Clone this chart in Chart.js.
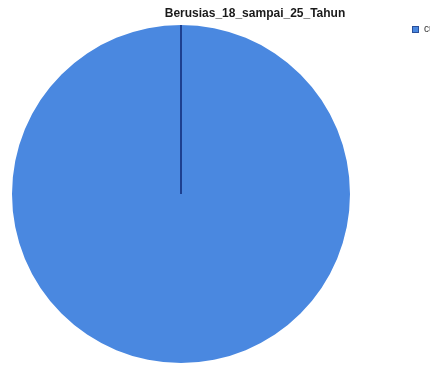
<!DOCTYPE html>
<html>
<head>
<meta charset="utf-8">
<script src="https://cdn.jsdelivr.net/npm/chart.js@4/dist/chart.umd.min.js"></script>
<style>
  html, body { margin: 0; padding: 0; background: #ffffff; }
  #wrap { width: 430px; height: 368px; position: relative; }
</style>
</head>
<body>
<div id="wrap"><canvas id="pie" width="430" height="368"></canvas></div>
<script>
// Frequency chart for the age-group variable
const chartTitle = 'Berusias_18_sampai_25_Tahun';
const categories = ['cukup'];
const counts = [100];
const sliceColors = ['#4a88e0'];

// Draws the title, the legend swatch and the slice edge line
const annotate = {
  id: 'annotate',
  afterDatasetsDraw(chart) {
    const ctx = chart.ctx;
    const meta = chart.getDatasetMeta(0);
    ctx.save();
    // radial edge of each slice
    ctx.strokeStyle = '#1d3f8f';
    ctx.lineWidth = 2;
    meta.data.forEach(arc => {
      const p = arc.getProps(['x', 'y', 'startAngle', 'outerRadius'], true);
      ctx.beginPath();
      ctx.moveTo(p.x, p.y);
      ctx.lineTo(p.x + Math.cos(p.startAngle) * p.outerRadius,
                 p.y + Math.sin(p.startAngle) * p.outerRadius);
      ctx.stroke();
    });
    // title
    ctx.fillStyle = '#1a1a1a';
    ctx.font = 'bold 12px "Liberation Sans", Arial, sans-serif';
    ctx.textAlign = 'center';
    ctx.textBaseline = 'middle';
    ctx.fillText(chartTitle, 255, 14);
    // legend
    ctx.textAlign = 'left';
    ctx.font = '10px "Liberation Sans", Arial, sans-serif';
    categories.forEach((c, i) => {
      const y = 29.5 + i * 14;
      ctx.fillStyle = sliceColors[i];
      ctx.fillRect(412, y - 3.5, 7, 7);
      ctx.strokeStyle = '#2a4f9a';
      ctx.lineWidth = 1;
      ctx.strokeRect(412.5, y - 3, 6, 6);
      ctx.fillStyle = '#333333';
      ctx.fillText(c, 424, y);
    });
    ctx.restore();
  }
};

new Chart(document.getElementById('pie'), {
  type: 'pie',
  data: {
    labels: categories,
    datasets: [{
      data: counts,
      backgroundColor: sliceColors,
      borderWidth: 0
    }]
  },
  options: {
    responsive: false,
    animation: false,
    layout: { padding: { top: 25, bottom: 5, left: 12, right: 80 } },
    plugins: {
      legend: { display: false },
      tooltip: { enabled: false },
      title: { display: false }
    }
  },
  plugins: [annotate]
});
</script>
</body>
</html>
